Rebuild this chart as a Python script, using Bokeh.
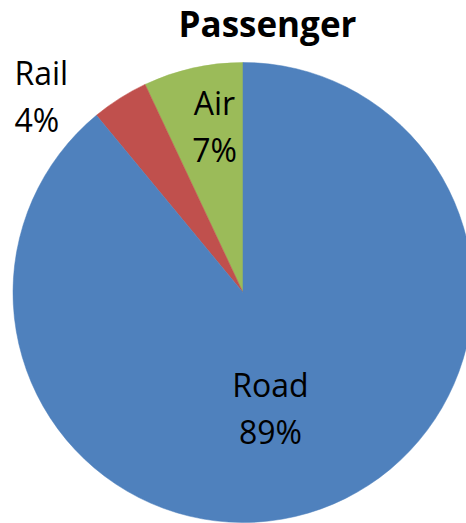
import math
from bokeh.plotting import figure
from bokeh.models import Range1d, Label, ColumnDataSource
from bokeh.embed import file_html
from bokeh.resources import INLINE

# Data
categories = ["Air", "Rail", "Road"]
shares = [7, 4, 89]
colors = ["#9BBB59", "#C0504D", "#4F81BD"]
title_text = "Passenger"

W, H = 466, 523
p = figure(width=W, height=H, output_backend="svg", toolbar_location=None,
           x_range=Range1d(0, W), y_range=Range1d(0, H), min_border=0)
p.axis.visible = False
p.grid.visible = False
p.outline_line_color = None
p.background_fill_color = "white"

cx, cy, r = 242.5, H - 292, 230
total = sum(shares)
starts, ends = [], []
a = math.pi / 2
for s in shares:
    starts.append(a)
    a += s / total * 2 * math.pi
    ends.append(a)

src = ColumnDataSource(dict(start=starts, end=ends, color=colors))
p.wedge(x=cx, y=cy, radius=r, start_angle="start", end_angle="end",
        fill_color="color", line_color="color", line_width=0.5, source=src)

# label anchors (screen coords): x, baseline of first line, align
anchors = {"Air": (214, 102, "center"), "Rail": (14, 72, "left"), "Road": (270, 384, "center")}
fs = "32px"
for name, sh in zip(categories, shares):
    x, yb, al = anchors[name]
    for i, t in enumerate([name, f"{sh}%"]):
        p.add_layout(Label(x=x, y=H - (yb + i * 47), x_units="data", y_units="data",
                           text=t, text_align=al, text_baseline="alphabetic",
                           text_font="Open Sans", text_font_size=fs, text_color="black"))

p.add_layout(Label(x=267, y=H - 23, text=title_text, text_align="center",
                   text_baseline="alphabetic", text_font="Open Sans",
                   text_font_style="bold", text_font_size="35px", text_color="black"))

open("out.html", "w").write(file_html(p, INLINE))
